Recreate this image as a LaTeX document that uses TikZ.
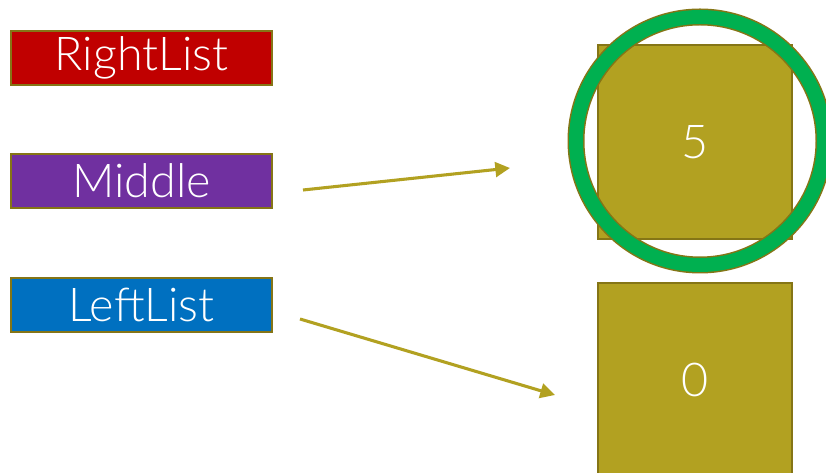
\documentclass[tikz,border=0pt]{standalone}
\usepackage{fontspec}
\IfFontExistsTF{Lato Light}{\setmainfont{Lato Light}}{\setmainfont{Lato}}
\usetikzlibrary{arrows.meta}
\definecolor{rlred}{HTML}{C00000}
\definecolor{mdpurple}{HTML}{7030A0}
\definecolor{llblue}{HTML}{0070C0}
\definecolor{olivefill}{HTML}{B2A121}
\definecolor{oliveline}{HTML}{857516}
\definecolor{ringgreen}{HTML}{00B050}
\tikzset{
  labelbox/.style={draw=oliveline, line width=1.5pt, minimum width=195.75pt, minimum height=40.5pt,
    inner sep=0pt, text=white, font=\fontsize{35}{40}\selectfont, anchor=north west},
  cellbox/.style={draw=oliveline, fill=olivefill, line width=1.5pt, minimum width=145.5pt,
    minimum height=145.5pt, inner sep=0pt, text=white, font=\fontsize{35}{40}\selectfont, anchor=north west},
  ptr/.style={draw=olivefill, line width=2.3pt, -{Triangle[length=11pt,width=11pt]}}
}
\begin{document}
\begin{tikzpicture}[x=0.75pt,y=-0.75pt]
\clip (0,0) rectangle (826,473);
\fill[white] (0,0) rectangle (826,473);
\node[labelbox, fill=rlred] (right) at (10,30) {RightList};
\node[labelbox, fill=mdpurple] (middle) at (10,153) {Middle};
\node[labelbox, fill=llblue] (left) at (10,277) {LeftList};
\node[cellbox] (five) at (597,44) {5};
\node[cellbox] (zero) at (597,282) {0};
\node[circle, draw=oliveline, line width=12.75pt, minimum size=248pt*0.75, inner sep=0pt] (ring) at (700,141) {};
\node[circle, draw=ringgreen, line width=10.5pt, minimum size=248pt*0.75, inner sep=0pt] (ringg) at (700,141) {};
\coordinate (m1) at (303,190);
\coordinate (m2) at (510,168);
\coordinate (l1) at (300,319);
\coordinate (l2) at (555,395);
\draw[ptr] (m1) -- (m2);
\draw[ptr] (l1) -- (l2);
\end{tikzpicture}
\end{document}
